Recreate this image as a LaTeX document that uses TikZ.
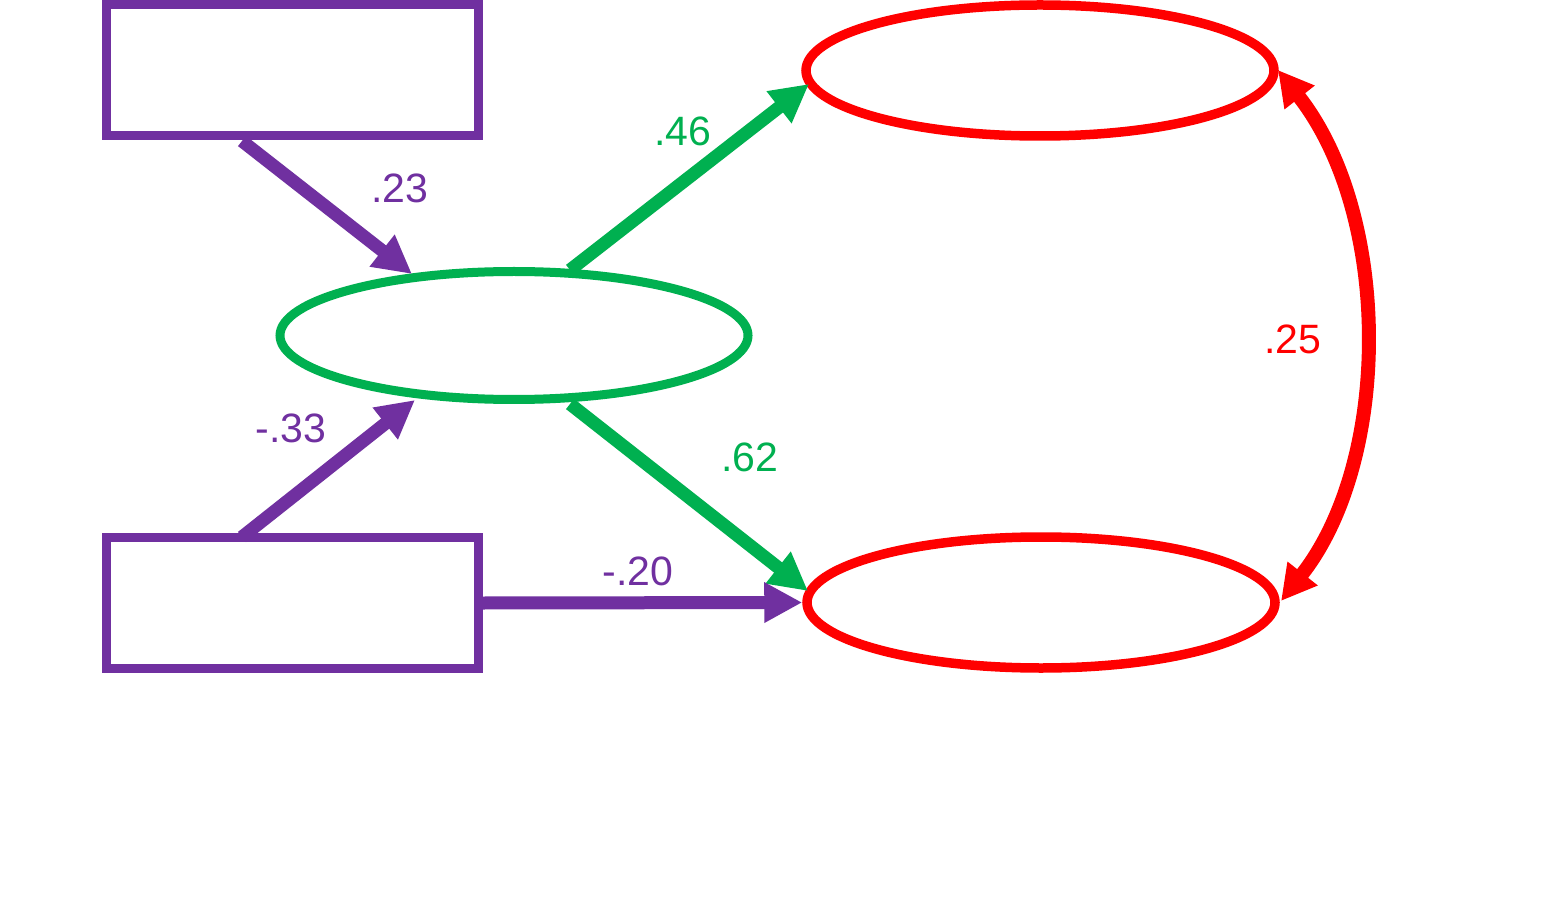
\documentclass[tikz,border=0pt]{standalone}
\usepackage{fontspec}
\setmainfont{Liberation Sans}
\usetikzlibrary{arrows.meta,calc,shapes.geometric}
\definecolor{cpurple}{HTML}{7030A0}
\definecolor{cgreen}{HTML}{00B050}
\definecolor{cred}{HTML}{FF0000}
\begin{document}
\begin{tikzpicture}[x=0.5pt,y=-0.5pt,
  rbox/.style={draw=cpurple,line width=4.5pt,minimum width=186pt,minimum height=65.5pt,inner sep=0pt,rectangle},
  gell/.style={draw=cgreen,line width=4.5pt,ellipse,minimum width=234pt,minimum height=64pt,inner sep=0pt},
  rell/.style={draw=cred,line width=4.75pt,ellipse,minimum width=234pt,minimum height=65.5pt,inner sep=0pt},
  parr/.style={draw=cpurple,line width=6.5pt,-{Triangle[length=19pt,width=19pt]}},
  garr/.style={draw=cgreen,line width=6.5pt,-{Triangle[length=19pt,width=19pt]}},
  rarr/.style={draw=cred,line width=7pt,{Triangle[length=17.5pt,width=18pt]}-{Triangle[length=17.5pt,width=18pt]}},
  lab/.style={font=\fontsize{20.5pt}{24pt}\selectfont,inner sep=0pt}]
\useasboundingbox (0,0) rectangle (1541,919);
\fill[white] (0,0) rectangle (1541,919);
\node[rbox] (a) at (292.5,70) {};
\node[rbox] (b) at (292.5,603) {};
\node[gell] (m) at (514,335.5) {};
\node[rell] (y1) at (1040,70.5) {};
\node[rell] (y2) at (1041,602.5) {};
\draw[parr] ($(a.center)+(-50.5,71)$) -- ($(m.center)+(-102,-61.5)$);
\draw[parr] ($(b.center)+(-50.5,-66)$) -- ($(m.center)+(-99,64.5)$);
\draw[garr] ($(m.center)+(56,-65.5)$) -- ($(y1.center)+(-231,13.5)$);
\draw[garr] ($(m.center)+(56,68.5)$) -- ($(y2.center)+(-233,-11.5)$);
\draw[parr] (b.east) -- (y2.west);
\draw[rarr] ($(y1.center)+(238,-0.5)$) .. controls (1392,215) and (1392,460) .. ($(y2.center)+(240,-1.5)$);
\node[lab,text=cpurple] (l1) at (400,188) {.23};
\node[lab,text=cpurple] (l2) at (291,428) {-.33};
\node[lab,text=cgreen] (l3) at (683,131) {.46};
\node[lab,text=cgreen] (l4) at (750,457) {.62};
\node[lab,text=cpurple] (l5) at (638,571) {-.20};
\node[lab,text=cred] (l6) at (1293,339) {.25};
\end{tikzpicture}
\end{document}
